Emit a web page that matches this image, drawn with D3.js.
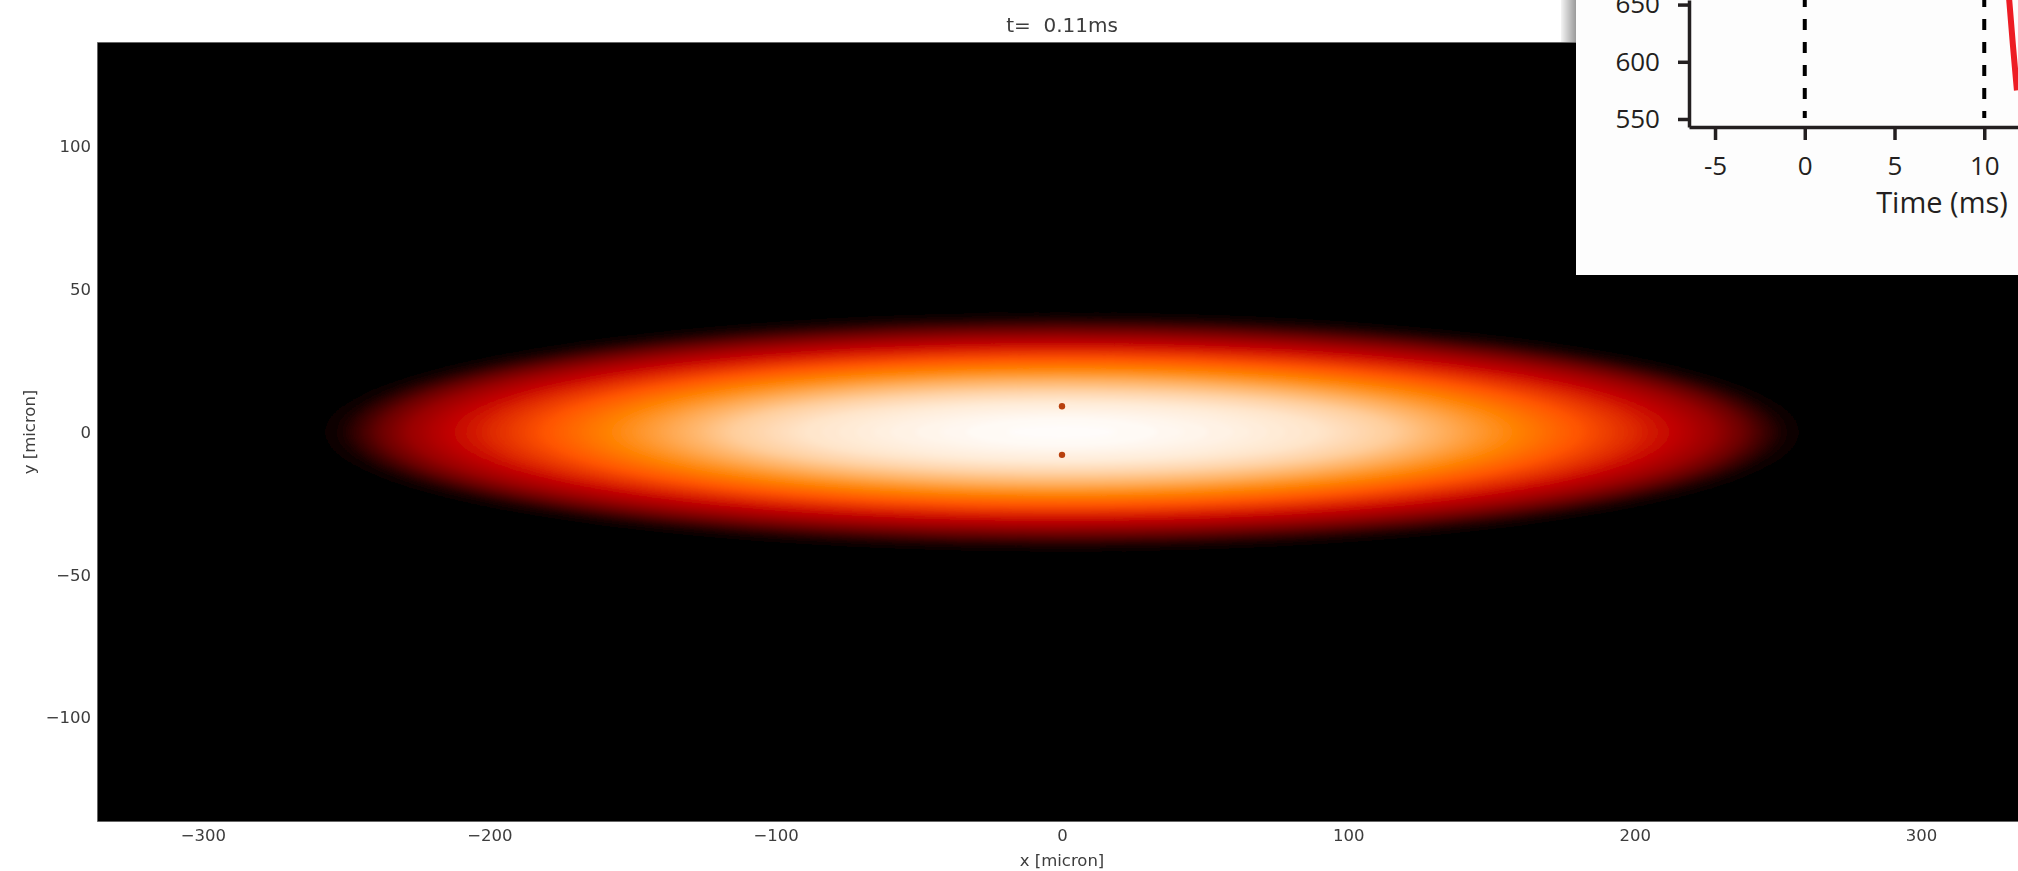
<!DOCTYPE html>
<html>
<head>
<meta charset="utf-8">
<title>t = 0.11ms</title>
<script src="https://cdn.jsdelivr.net/npm/d3@7"></script>
<style>
  body { margin: 0; background: #fff; }
  svg { display: block; }
</style>
</head>
<body>
<svg width="2018" height="871"></svg>
<script>
// main panel ticks
const xTicks = [-300, -200, -100, 0, 100, 200, 300];
const yTicks = [-100, -50, 0, 50, 100];

// intensity read along the long axis (y = 0) and the short axis (x = 0), micron -> value
const profileXPos = [0, 30, 60, 90, 115, 140, 160, 180, 200, 215, 228, 238, 246, 252, 260];
const profileXVal = [1.0, 0.992, 0.975, 0.95, 0.905, 0.82, 0.75, 0.67, 0.58, 0.50, 0.40, 0.28, 0.15, 0.06, 0.0];
const profileYPos = [0, 5, 10, 14, 18, 22, 26, 30, 33, 36, 38.5, 40.5, 43];
const profileYVal = [1.0, 0.99, 0.965, 0.92, 0.85, 0.76, 0.66, 0.55, 0.43, 0.28, 0.14, 0.05, 0.0];

// two small markers near the centre
const markerX = [0, 0];
const markerY = [9, -8];

// inset
const insetXTicks = [-5, 0, 5, 10];
const insetYTicks = [550, 600, 650];
const stimTimes = [0, 10];
const traceTime = [11.38, 11.6, 11.82];
const traceValue = [656, 614, 575];

const svg = d3.select("svg");
const W = +svg.attr("width"), H = +svg.attr("height");

const xScale = d3.scaleLinear().domain([-337, 337]).range([97, 2027]);
const yScale = d3.scaleLinear().domain([-136.5, 136.5]).range([822, 42]);

// gist_heat colour map
const heat = d3.scaleLinear()
  .domain([0, 0.5, 0.6667, 0.75, 1])
  .range(["#000000", "#bf0000", "#ff5500", "#ff8000", "#ffffff"])
  .interpolate(d3.interpolateRgb)
  .clamp(true);

// value -> distance lookups (inverse of the profiles)
const rxOf = d3.scaleLinear().domain(profileXVal).range(profileXPos).clamp(true);
const ryOf = d3.scaleLinear().domain(profileYVal).range(profileYPos).clamp(true);

const defs = svg.append("defs");
defs.append("clipPath").attr("id", "plotClip")
  .append("rect")
  .attr("x", xScale(-337)).attr("y", yScale(136.5))
  .attr("width", W - xScale(-337)).attr("height", yScale(-136.5) - yScale(136.5));

const blur = defs.append("filter").attr("id", "soft")
  .attr("filterUnits", "userSpaceOnUse")
  .attr("x", 0).attr("y", 0).attr("width", W).attr("height", H);
blur.append("feGaussianBlur").attr("stdDeviation", 2.2);

const txtBlur = defs.append("filter").attr("id", "txtBlur");
txtBlur.append("feGaussianBlur").attr("stdDeviation", 0.45);

const shadow = defs.append("linearGradient").attr("id", "shade");
shadow.append("stop").attr("offset", "0%").attr("stop-color", "#f4f4f4");
shadow.append("stop").attr("offset", "100%").attr("stop-color", "#9a9a9a");

// plot background
const plot = svg.append("g").attr("clip-path", "url(#plotClip)");
plot.append("rect")
  .attr("x", xScale(-337)).attr("y", yScale(136.5))
  .attr("width", W).attr("height", yScale(-136.5) - yScale(136.5))
  .attr("fill", "#000");

// nested elliptical iso-levels
const levels = d3.range(0.01, 1.0, 0.005);
plot.append("g").attr("filter", "url(#soft)")
  .selectAll("ellipse").data(levels).join("ellipse")
  .attr("cx", xScale(0)).attr("cy", yScale(0))
  .attr("rx", v => xScale(rxOf(v)) - xScale(0))
  .attr("ry", v => yScale(0) - yScale(ryOf(v)))
  .attr("fill", v => heat(v));

plot.append("g").attr("filter", "url(#txtBlur)")
  .selectAll("circle").data(markerX).join("circle")
  .attr("cx", d => xScale(d))
  .attr("cy", (d, i) => yScale(markerY[i]))
  .attr("r", 3.2)
  .attr("fill", "#b8400c");

// frame
plot.append("rect")
  .attr("x", xScale(-337)).attr("y", yScale(136.5))
  .attr("width", W).attr("height", yScale(-136.5) - yScale(136.5))
  .attr("fill", "none").attr("stroke", "#888").attr("stroke-width", 1.5);

// main axes
const labels = svg.append("g").attr("filter", "url(#txtBlur)")
  .style("font-family", "'DejaVu Sans', sans-serif").attr("fill", "#3c3c3c");

const xAx = labels.append("g")
  .attr("transform", `translate(0,${yScale(-136.5)})`)
  .call(d3.axisBottom(xScale).tickValues(xTicks).tickSize(0).tickPadding(7.5));
const yAx = labels.append("g")
  .attr("transform", `translate(${xScale(-337)},0)`)
  .call(d3.axisLeft(yScale).tickValues(yTicks).tickSize(0).tickPadding(6));
[xAx, yAx].forEach(a => {
  a.select(".domain").remove();
  a.selectAll("text").attr("fill", "#3c3c3c").style("font-size", "16.5px")
    .style("font-family", "'DejaVu Sans', sans-serif");
});

labels.append("text")
  .attr("x", xScale(0)).attr("y", 866)
  .attr("text-anchor", "middle").style("font-size", "16.5px")
  .text("x [micron]");
labels.append("text")
  .attr("transform", `translate(35,${yScale(0)}) rotate(-90)`)
  .attr("text-anchor", "middle").style("font-size", "16.5px")
  .text("y [micron]");
labels.append("text")
  .attr("x", xScale(0)).attr("y", 32)
  .attr("text-anchor", "middle").style("font-size", "20px")
  .style("white-space", "pre")
  .text("t=  0.11ms");

// inset panel
const ix = d3.scaleLinear().domain([-6.45, 11.88]).range([1689, 2018]);
const iy = d3.scaleLinear().domain([543, 654]).range([127, 0]);

svg.append("rect").attr("x", 1561).attr("y", 0).attr("width", 15).attr("height", yScale(136.5))
  .attr("fill", "url(#shade)");
svg.append("rect").attr("x", 1576).attr("y", 0).attr("width", W - 1576).attr("height", 275)
  .attr("fill", "#fdfdfd");

const inset = svg.append("g")
  .style("font-family", "'Open Sans', sans-serif").attr("fill", "#231f20");

inset.selectAll(".stim").data(stimTimes).join("line")
  .attr("class", "stim")
  .attr("x1", d => ix(d)).attr("x2", d => ix(d))
  .attr("y1", 0).attr("y2", 118)
  .attr("stroke", "#000").attr("stroke-width", 4)
  .attr("stroke-dasharray", "11,12").attr("stroke-dashoffset", 4);

inset.append("path")
  .datum(traceTime.map((t, i) => [t, traceValue[i]]))
  .attr("d", d3.line().x(d => ix(d[0])).y(d => iy(d[1])).curve(d3.curveMonotoneX))
  .attr("fill", "none").attr("stroke", "#ed1c24").attr("stroke-width", 6);

const ixAx = inset.append("g").attr("transform", `translate(0,${iy(543)})`)
  .call(d3.axisBottom(ix).tickValues(insetXTicks).tickSize(13).tickPadding(17).tickSizeOuter(0));
const iyAx = inset.append("g").attr("transform", `translate(${ix(-6.45)},0)`)
  .call(d3.axisLeft(iy).tickValues(insetYTicks).tickSize(11).tickPadding(18).tickSizeOuter(0));
[ixAx, iyAx].forEach(a => {
  a.selectAll("path, line").attr("stroke", "#231f20").attr("stroke-width", 3.5);
  a.selectAll("text").attr("fill", "#231f20").style("font-size", "26px")
    .style("font-family", "'Open Sans', sans-serif");
});
ixAx.selectAll("text").text(d => d < 0 ? "-" + Math.abs(d) : d);

inset.append("text")
  .attr("x", 1942).attr("y", 213)
  .attr("text-anchor", "middle").style("font-size", "29px")
  .text("Time (ms)");
</script>
</body>
</html>
